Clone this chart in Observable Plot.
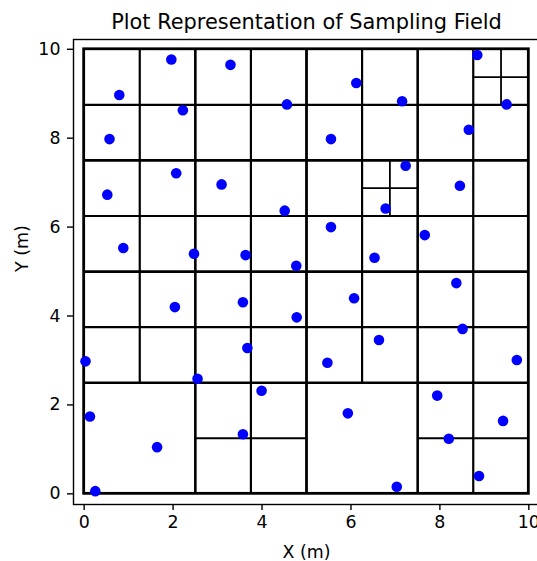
<!DOCTYPE html>
<html><head><meta charset="utf-8">
<script src="https://cdn.jsdelivr.net/npm/d3@7"></script>
<script src="https://cdn.jsdelivr.net/npm/@observablehq/plot@0.6"></script>
<style>
html,body{margin:0;padding:0;background:#fff;overflow:hidden;}
#chart{width:537px;height:561px;overflow:hidden;}
#chart svg{max-width:none !important;}
</style></head><body><div id="chart"></div>
<script>
const title = "Plot Representation of Sampling Field";
const xLabel = "X (m)";
const yLabel = "Y (m)";
const xTicks = [0, 2, 4, 6, 8, 10];
const yTicks = [0, 2, 4, 6, 8, 10];

// sampling points
const sampleX = [1.96, 3.29, 0.79, 4.56, 2.22, 0.57, 2.07, 3.09, 0.52, 4.51, 0.88, 2.47, 3.63, 4.77,
  8.84, 6.12, 7.15, 9.50, 8.65, 5.55, 7.23, 8.45, 6.78, 5.55, 7.66, 6.53,
  2.04, 3.57, 4.78, 3.67, 0.03, 2.55, 3.99, 0.13, 3.57, 1.64, 0.25,
  8.37, 6.07, 8.51, 6.63, 5.47, 9.73, 7.94, 5.93, 9.42, 8.20, 8.88, 7.03];
const sampleY = [9.77, 9.65, 8.97, 8.76, 8.63, 7.98, 7.21, 6.96, 6.73, 6.37, 5.53, 5.40, 5.37, 5.13,
  9.87, 9.24, 8.83, 8.76, 8.19, 7.98, 7.38, 6.93, 6.42, 6.00, 5.82, 5.31,
  4.20, 4.31, 3.97, 3.28, 2.98, 2.59, 2.32, 1.74, 1.34, 1.05, 0.06,
  4.74, 4.40, 3.71, 3.46, 2.95, 3.01, 2.21, 1.81, 1.64, 1.24, 0.40, 0.16];

// field boundary [x0, y0, size]
const fieldBounds = [0, 0, 10];
// quadtree cells that were subdivided: [x0, y0, size]
const splitCells = [
  [0, 0, 10],
  [0, 0, 5], [5, 0, 5], [0, 5, 5], [5, 5, 5],
  [2.5, 0, 2.5], [7.5, 0, 2.5], [0, 2.5, 2.5], [2.5, 2.5, 2.5], [5, 2.5, 2.5], [7.5, 2.5, 2.5],
  [0, 5, 2.5], [2.5, 5, 2.5], [5, 5, 2.5], [7.5, 5, 2.5],
  [0, 7.5, 2.5], [2.5, 7.5, 2.5], [5, 7.5, 2.5], [7.5, 7.5, 2.5],
  [6.25, 6.25, 1.25], [8.75, 8.75, 1.25]
];
const lineWidthBySize = {10: 2.8, 5: 2.6, 2.5: 2.2, 1.25: 1.8};

const points = sampleX.map((x, i) => ({x, y: sampleY[i]}));
const vLines = splitCells.map(([x0, y0, s]) => ({x: x0 + s / 2, y1: y0, y2: y0 + s, w: lineWidthBySize[s]}));
const hLines = splitCells.map(([x0, y0, s]) => ({y: y0 + s / 2, x1: x0, x2: x0 + s, w: lineWidthBySize[s]}));
const border = [{x1: fieldBounds[0], y1: fieldBounds[1], x2: fieldBounds[0] + fieldBounds[2], y2: fieldBounds[1] + fieldBounds[2]}];

const chart = Plot.plot({
  width: 541,
  height: 561,
  marginLeft: 73,
  marginRight: 2,
  marginTop: 39,
  marginBottom: 57,
  style: {fontFamily: "'DejaVu Sans', sans-serif", fontSize: "17.4px", color: "black", background: "white", maxWidth: "none"},
  x: {domain: [-0.24, 10.24]},
  y: {domain: [-0.24, 10.22]},
  marks: [
    Plot.ruleX(vLines, {x: "x", y1: "y1", y2: "y2", stroke: "black", strokeWidth: "w"}),
    Plot.ruleY(hLines, {y: "y", x1: "x1", x2: "x2", stroke: "black", strokeWidth: "w"}),
    Plot.rect(border, {x1: "x1", y1: "y1", x2: "x2", y2: "y2", fill: "none", stroke: "black", strokeWidth: 2.8}),
    Plot.dot(points, {x: "x", y: "y", r: 5.3, fill: "#0000ff", stroke: "none"}),
    Plot.frame({stroke: "black", strokeWidth: 1.4}),
    Plot.axisX({ticks: xTicks, tickSize: 6, tickPadding: 5, strokeWidth: 1.4, label: null, fontSize: 17.4}),
    Plot.axisY({ticks: yTicks, tickSize: 6, tickPadding: 7, strokeWidth: 1.4, label: null, fontSize: 17.4}),
    Plot.text([xLabel], {frameAnchor: "bottom", dy: 53, lineAnchor: "bottom", fontSize: 17.4, fill: "black"}),
    Plot.text([yLabel], {frameAnchor: "left", dx: -46, rotate: -90, lineAnchor: "bottom", fontSize: 17.4, fill: "black"}),
    Plot.text([title], {frameAnchor: "top", dy: -10.4, lineAnchor: "bottom", fontSize: 20.9, fill: "black"})
  ]
});
document.getElementById("chart").appendChild(chart);
</script></body></html>
